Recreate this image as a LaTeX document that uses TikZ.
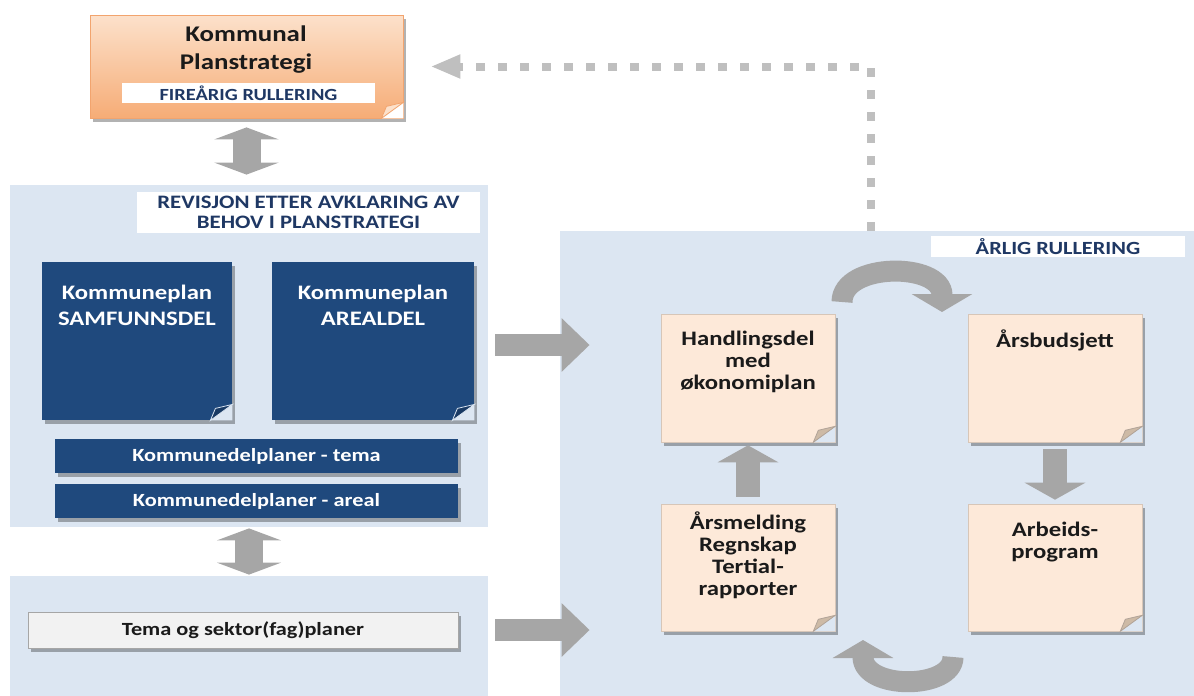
\documentclass[tikz,border=0pt]{standalone}
\usepackage{fontspec}
\setmainfont{Carlito}[FakeStretch=1.2]
\usetikzlibrary{arrows.meta,fit,shadows,positioning}

\definecolor{panelblue}{HTML}{DCE6F2}
\definecolor{darkblue}{HTML}{1F497D}
\definecolor{navy}{HTML}{1F3864}
\definecolor{cream}{HTML}{FDE9D9}
\definecolor{creamfold}{HTML}{CDBAA6}
\definecolor{arrowgray}{HTML}{A6A6A6}
\definecolor{dotgray}{HTML}{BFBFBF}
\definecolor{orangetop}{HTML}{FCE1CB}
\definecolor{orangebot}{HTML}{F6AC76}
\definecolor{orangeline}{HTML}{F2A46E}
\definecolor{sektorgray}{HTML}{F2F2F2}
\definecolor{textblack}{HTML}{1A1A1A}

\tikzset{
  panel/.style={fill=panelblue, inner sep=0pt},
  strip/.style={fill=white, inner sep=0pt},
  striptext/.style={text=navy, align=center, font=\fontsize{9.3}{10}\selectfont\bfseries},
  shade/.style={drop shadow={shadow xshift=1.5pt, shadow yshift=-2pt, opacity=.3, fill=black}},
  planbox/.style={inner sep=0pt, top color=orangetop, bottom color=orangebot, draw=orangeline, line width=.4pt, shade},
  darkbox/.style={inner sep=0pt, fill=darkblue, shade},
  creambox/.style={inner sep=0pt, fill=cream, draw=cream!85!black, line width=.3pt, shade},
  sektorbox/.style={inner sep=0pt, fill=sektorgray, draw=arrowgray, line width=.4pt, shade},
  headtext/.style={text=textblack, align=center, font=\fontsize{11.2}{14}\selectfont\bfseries},
  darktext/.style={text=white, align=center, font=\fontsize{10.3}{13}\selectfont\bfseries},
  boxtext/.style={text=textblack, align=center, font=\fontsize{10.3}{11}\selectfont\bfseries},
  bartext/.style={font=\fontsize{9.3}{10}\selectfont\bfseries},
  blockarrow/.style={draw=arrowgray, line width=11pt, -{Triangle[width=26pt,length=14pt]}},
  updown/.style={draw=arrowgray, line width=12pt, -{Triangle[width=30pt,length=8.5pt]}},
  dblarrow/.style={draw=arrowgray, line width=14pt, {Triangle[width=32pt,length=6pt]}-{Triangle[width=32pt,length=6pt]}},
  curvearrow/.style={draw=arrowgray, line width=10.5pt, -{Triangle[width=30pt,length=9pt]}},
  dotarrow/.style={draw=dotgray, line width=4pt, dash pattern=on 4.5pt off 6.5pt, -{Triangle[width=11pt,length=15pt]}}
}

\newcommand{\foldcorner}[4]{%
\fill[#2] ([xshift=-11pt]#1.south east) -- (#1.south east) -- ([yshift=8pt]#1.south east) -- cycle;
\filldraw[fill=#3, draw=#4, line width=.4pt] ([xshift=-11pt]#1.south east) -- ([yshift=8pt]#1.south east) -- ([xshift=-8.5pt,yshift=6pt]#1.south east) -- cycle;}

\begin{document}
\begin{tikzpicture}[x=0.5pt,y=-0.5pt]
\useasboundingbox (0,0) rectangle (1194,696);

\node[panel, fit={(10,185) (488,527)}] (revpanel) {};
\node[panel, fit={(10,576) (488,696)}] (sektorpanel) {};
\node[panel, fit={(560,231) (1194,696)}] (rpanel) {};

\node[planbox, fit={(90,15) (403,118)}] (plan) {};
\foldcorner{plan}{white}{orangetop}{orangeline}
\node[headtext] (plantxt) at (246,50) {Kommunal\\Planstrategi};
\node[strip, fit={(122,83) (375,103)}] (fire) {};
\node[striptext, font=\fontsize{8.5}{10}\selectfont\bfseries] (firetxt) at (fire) {FIREÅRIG RULLERING};

\node[strip, fit={(137,192) (480,233)}] (rev) {};
\node[striptext, font=\fontsize{9.5}{10}\selectfont\bfseries] (revtxt) at (rev) {REVISJON ETTER AVKLARING AV\\BEHOV I PLANSTRATEGI};

\node[darkbox, fit={(42,262) (232,420)}] (samf) {};
\node[darkbox, fit={(272,262) (474,420)}] (areal) {};
\foldcorner{samf}{panelblue}{darkblue!80!black}{panelblue}
\foldcorner{areal}{panelblue}{darkblue!80!black}{panelblue}
\node[darktext] (samftxt) at (137,305) {Kommuneplan\\SAMFUNNSDEL};
\node[darktext] (arealtxt) at (373,305) {Kommuneplan\\AREALDEL};

\node[darkbox, fit={(55,439) (458,473)}] (kdtema) {};
\node[darkbox, fit={(55,484) (458,518)}] (kdareal) {};
\node[bartext, text=white] (kdtematxt) at (kdtema) {Kommunedelplaner - tema};
\node[bartext, text=white] (kdarealtxt) at (kdareal) {Kommunedelplaner - areal};

\node[sektorbox, fit={(28,612) (458,648)}] (sektor) {};
\node[bartext, text=textblack] (sektortxt) at (sektor) {Tema og sektor(fag)planer};

\node[strip, fit={(931,236) (1185,257)}] (aarlig) {};
\node[striptext] (aarligtxt) at (aarlig) {ÅRLIG RULLERING};

\node[creambox, fit={(661,314) (835,442)}] (hand) {};
\node[creambox, fit={(968,314) (1142,442)}] (budsj) {};
\node[creambox, fit={(661,504) (835,631)}] (aars) {};
\node[creambox, fit={(968,504) (1142,631)}] (arb) {};
\foldcorner{hand}{panelblue}{creamfold}{cream!70!black}
\foldcorner{budsj}{panelblue}{creamfold}{cream!70!black}
\foldcorner{aars}{panelblue}{creamfold}{cream!70!black}
\foldcorner{arb}{panelblue}{creamfold}{cream!70!black}
\node[boxtext] (handtxt) at (748,362) {Handlingsdel\\med\\økonomiplan};
\node[boxtext] (budsjtxt) at (1055,340) {Årsbudsjett};
\node[boxtext] (aarstxt) at (748,555) {Årsmelding\\Regnskap\\Tertial-\\rapporter};
\node[boxtext] (arbtxt) at (1055,542) {Arbeids-\\program};

\draw[dblarrow, shorten <=4.5pt, shorten >=5pt] (plan.south) -- (plan.south |- revpanel.north);
\draw[dblarrow, shorten <=0.5pt, shorten >=0.5pt] (revpanel.south) -- (sektorpanel.north);

\draw[blockarrow, shorten <=3.5pt, shorten >=-15pt] (revpanel.east |- 0,345) -- (rpanel.west |- 0,345);
\draw[blockarrow, shorten <=3.5pt, shorten >=-15pt] (sektorpanel.east |- 0,630) -- (rpanel.west |- 0,630);

\draw[updown, shorten <=3.5pt, shorten >=1.5pt] (aars.north) -- (hand.south);
\draw[updown, shorten <=3.5pt, shorten >=2pt] (budsj.south) -- (arb.north);

\coordinate (topfrom) at (842,302);
\coordinate (topto) at (942,312);
\coordinate (botfrom) at (953,657);
\coordinate (botto) at (863,640);
\draw[curvearrow] (topfrom) .. controls (842,262) and (942,262) .. (topto);
\draw[curvearrow] (botfrom) .. controls (953,690) and (863,690) .. (botto);

\draw[dotarrow] (871,0 |- rpanel.north) |- ([xshift=13.5pt]plan.east);
\end{tikzpicture}
\end{document}
